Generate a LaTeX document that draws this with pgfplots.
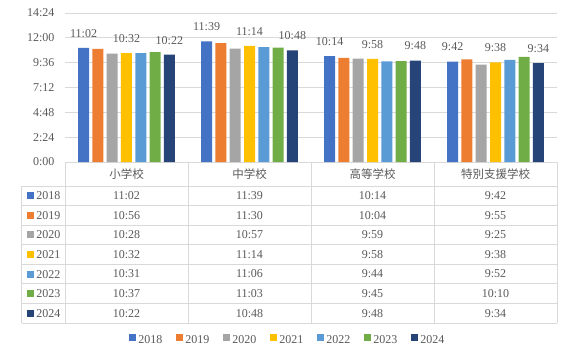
\documentclass[border=0pt]{standalone}
\usepackage{pgfplots}
\pgfplotsset{compat=1.18}
\usepackage{fontspec}
\setmainfont{Liberation Serif}
\newfontfamily\cjk{Noto Sans CJK JP}
\definecolor{c1}{HTML}{4472C4}
\definecolor{c2}{HTML}{ED7D31}
\definecolor{c3}{HTML}{A5A5A5}
\definecolor{c4}{HTML}{FFC000}
\definecolor{c5}{HTML}{5B9BD5}
\definecolor{c6}{HTML}{70AD47}
\definecolor{c7}{HTML}{264478}
\definecolor{txt}{HTML}{595959}
\definecolor{gridc}{HTML}{D9D9D9}
\begin{document}
\begin{tikzpicture}[font=\fontsize{12}{14}\selectfont]
\begin{axis}[name=ax,
  scale only axis, width=492pt, height=149pt,
  xmin=-0.5, xmax=3.5, ymin=0, ymax=864,
  ybar=3.3pt, bar width=11pt,
  xtick=\empty,
  ytick={0,144,288,432,576,720,864},
  yticklabels={0:00,2:24,4:48,7:12,9:36,12:00,14:24},
  ymajorgrids, grid style={gridc, line width=1pt},
  axis line style={draw=none},
  major tick length=0pt,
  tick label style={font=\fontsize{12}{14}\selectfont, text=txt},
  yticklabel style={xshift=-7pt},
  clip=false,
  legend columns=7,
  legend style={at={(0.453,-1.195)}, anchor=center, draw=none, fill=none,
    font=\fontsize{12}{14}\selectfont, text=txt,
    /tikz/every even column/.append style={column sep=12pt}},
  every axis plot/.append style={draw=none,
    legend image code/.code={\fill[##1] (0pt,-1pt) rectangle (7pt,6pt);}},
  every node near coord/.append style={font=\fontsize{12}{14}\selectfont, text=txt, yshift=7pt},
]
\addplot[fill=c1, nodes near coords, point meta=explicit symbolic] coordinates {(0,662)[11:02] (1,699)[11:39] (2,614)[10:14] (3,582)[9:42]};
\addplot[fill=c2] coordinates {(0,656) (1,690) (2,604) (3,595)};
\addplot[fill=c3] coordinates {(0,628) (1,657) (2,599) (3,565)};
\addplot[fill=c4, nodes near coords, point meta=explicit symbolic] coordinates {(0,632)[10:32] (1,674)[11:14] (2,598)[9:58] (3,578)[9:38]};
\addplot[fill=c5] coordinates {(0,631) (1,666) (2,584) (3,592)};
\addplot[fill=c6] coordinates {(0,637) (1,663) (2,585) (3,610)};
\addplot[fill=c7, nodes near coords, point meta=explicit symbolic] coordinates {(0,622)[10:22] (1,648)[10:48] (2,588)[9:48] (3,574)[9:34]};
\legend{2018,2019,2020,2021,2022,2023,2024}
\end{axis}
\begin{scope}[shift={(ax.south west)}, x=1pt, y=1pt]
  \foreach \xx in {0,123,246,369,492} \draw[gridc, line width=1pt] (\xx,0) -- (\xx,-161);
  \draw[gridc, line width=1pt] (-43,-24) -- (-43,-161);
  \foreach \k in {0,...,7} \draw[gridc, line width=1pt] (-43,-24-19.571*\k) -- (492,-24-19.571*\k);
  \foreach \nm [count=\j from 0] in {小学校,中学校,高等学校,特別支援学校}
    \node[text=txt, font=\cjk\fontsize{11.5}{14}\selectfont] at (61.5+123*\j,-12) {\nm};
  \foreach \yr/\col/\a/\b/\c/\d [count=\i from 0] in {
    2018/c1/11:02/11:39/10:14/9:42,
    2019/c2/10:56/11:30/10:04/9:55,
    2020/c3/10:28/10:57/9:59/9:25,
    2021/c4/10:32/11:14/9:58/9:38,
    2022/c5/10:31/11:06/9:44/9:52,
    2023/c6/10:37/11:03/9:45/10:10,
    2024/c7/10:22/10:48/9:48/9:34}{
    \pgfmathsetmacro\yy{-24-19.571*(\i+0.5)}
    \fill[\col] (-38,\yy-3.5) rectangle (-31,\yy+3.5);
    \node[text=txt, inner sep=0pt] at (-16.5,\yy) {\yr};
    \node[text=txt, inner sep=0pt] at (61.5,\yy) {\a};
    \node[text=txt, inner sep=0pt] at (184.5,\yy) {\b};
    \node[text=txt, inner sep=0pt] at (307.5,\yy) {\c};
    \node[text=txt, inner sep=0pt] at (430.5,\yy) {\d};
  }
  \pgfresetboundingbox
  \path (-65,-192) rectangle (502,162);
\end{scope}
\end{tikzpicture}
\end{document}
